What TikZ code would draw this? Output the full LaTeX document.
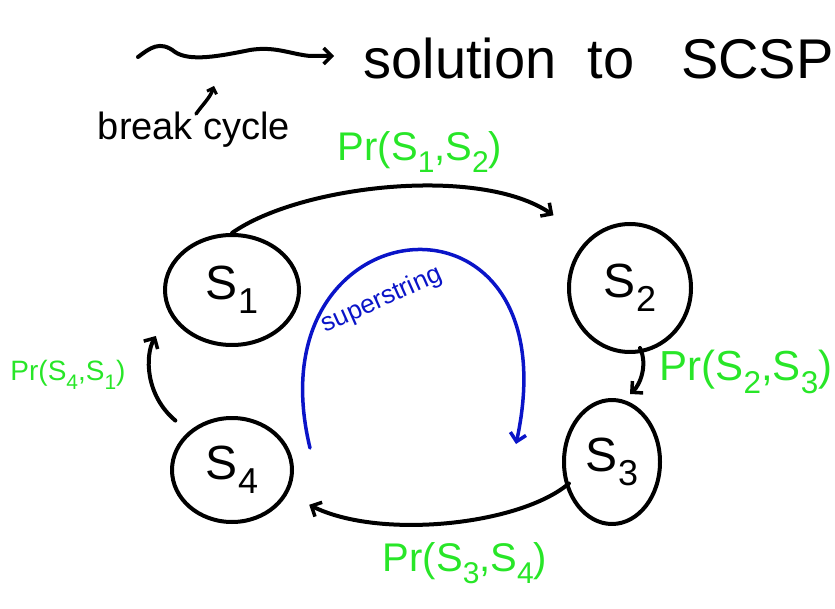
\documentclass[tikz,border=0pt]{standalone}
\usepackage{fontspec}
\setmainfont{Liberation Sans}
\usetikzlibrary{shapes.geometric,arrows.meta}
\definecolor{pgreen}{RGB}{40,230,40}
\definecolor{pblue}{RGB}{10,20,200}
\newcommand{\lowsub}[1]{\raisebox{-0.3em}{\scalebox{0.75}{#1}}}
\begin{document}
\begin{tikzpicture}[x=1pt,y=-1pt,
  ink/.style={line width=4pt, line cap=round, line join=round},
  st/.style={ellipse, draw, ink, inner sep=0pt, font=\fontsize{48}{50}\selectfont},
  arr/.style={ink, -{Straight Barb[length=8pt,width=16pt,line width=3.5pt]}},
  lab/.style={text=pgreen, font=\fontsize{40}{42}\selectfont},
  ]
\useasboundingbox (0,0) rectangle (835,609);

% top line
\coordinate (sqA) at (138,57);
\coordinate (sqB) at (334,56);
\draw[arr] (sqA) .. controls (150,48) and (160,40) .. (175,52)
  .. controls (190,62) and (220,56) .. (250,50)
  .. controls (275,46) and (290,54) .. (310,56) -- (sqB);
\node[font=\fontsize{56}{58}\selectfont, anchor=west] (sol) at (360,58) {solution\ \ to\ \ \ SCSP};

\node[font=\fontsize{38}{40}\selectfont] (brk) at (194,130) {break cycle};
\coordinate (bkA) at (196,114);
\coordinate (bkB) at (214,86);
\draw[ink, line width=3.5pt, -{Straight Barb[length=5pt,width=10pt,line width=3pt]}] (bkA) .. controls (203,104) and (210,98) .. (bkB);

% states
\node[st, minimum width=134pt, minimum height=110pt] (s1) at (232,290) {S\lowsub{1}};
\node[st, minimum width=122pt, minimum height=128pt] (s2) at (630,288) {S\lowsub{2}};
\node[st, minimum width=96pt, minimum height=124pt] (s3) at (612,462) {S\lowsub{3}};
\node[st, minimum width=120pt, minimum height=104pt] (s4) at (232,470) {S\lowsub{4}};

% connectors
\draw[arr] (s1.north) .. controls (300,185) and (480,165) .. ([shift={(-32,-26)}]s2.north west);
\draw[arr] ([shift={(10,-6)}]s2.south) .. controls (648,365) and (640,385) .. ([shift={(18,-4)}]s3.north);
\draw[arr] ([shift={(5,4)}]s3.200) .. controls (520,525) and (380,540) .. ([shift={(20,14)}]s4.-20);
\draw[arr] ([shift={(-12,-12)}]s4.140) .. controls (145,395) and (145,355) .. ([shift={(-13,23)}]s1.-160);

% labels
\node[lab] (l12) at (420,152) {Pr(S\lowsub{1},S\lowsub{2})};
\node[lab, font=\fontsize{42}{44}\selectfont] (l23) at (746,372) {Pr(S\lowsub{2},S\lowsub{3})};
\node[lab] (l34) at (465,563) {Pr(S\lowsub{3},S\lowsub{4})};
\node[lab, font=\fontsize{28}{30}\selectfont] (l41) at (68,375) {Pr(S\lowsub{4},S\lowsub{1})};

% superstring arc
\coordinate (bA) at (310,448);
\coordinate (bB) at (516,444);
\draw[ink, pblue, line width=3.5pt, -{Straight Barb[length=8pt,width=16pt,line width=3.5pt]}] (bA) .. controls (250,200) and (575,170) .. (bB);
\node[text=pblue, font=\fontsize{26}{28}\selectfont, rotate=24] (sup) at (382,300) {superstring};
\end{tikzpicture}
\end{document}
